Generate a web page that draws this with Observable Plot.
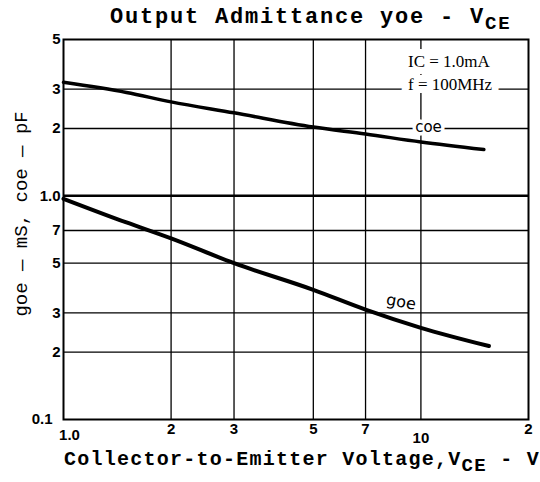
<!DOCTYPE html>
<html><head><meta charset="utf-8">
<script src="https://cdn.jsdelivr.net/npm/d3@7"></script>
<script src="https://cdn.jsdelivr.net/npm/@observablehq/plot@0.6"></script>
<style>
body{margin:0;background:#fff;}
#wrap{position:relative;width:540px;height:482px;overflow:hidden;}
#wrap svg{position:absolute;left:0;top:0;}
.lab{position:absolute;white-space:nowrap;font-family:"Liberation Mono",monospace;font-weight:bold;color:#000;}
#title{left:110px;top:7px;font-size:22px;line-height:22px;letter-spacing:1.8px;}
#xlabel{left:64px;top:450px;font-size:20px;line-height:20px;letter-spacing:1.25px;}
.sb{position:relative;top:6px;font-size:19px;}
</style></head><body>
<div id="wrap">
<div id="chart"></div>
<div id="title" class="lab">Output Admittance yoe - V<span class="sb">CE</span></div>
<div id="xlabel" class="lab">Collector-to-Emitter Voltage,V<span class="sb">CE</span> - V</div>
</div>
<script>
// Collector-to-emitter voltage (V)
const vce = [1.0, 1.5, 2, 3, 5, 7, 10, 15];
// Output capacitance coe (pF)
const coe = [3.22, 2.9, 2.63, 2.35, 2.03, 1.89, 1.74, 1.61];
// goe voltage points (V)
const vceG = [1.0, 1.5, 2, 3, 5, 7, 10, 15.5];
// Output conductance goe (mS)
const goe = [0.97, 0.76, 0.645, 0.50, 0.38, 0.31, 0.257, 0.213];

const xTicks = [1, 2, 3, 5, 7, 10, 20];
const xTickLabels = ["1.0", "2", "3", "5", "7", "10", "2"];
const yTicks = [0.1, 0.2, 0.3, 0.5, 0.7, 1, 2, 3, 5];
const yTickLabels = ["0.1", "2", "3", "5", "7", "1.0", "2", "3", "5"];

const coeData = vce.map((v, i) => ({v, val: coe[i]}));
const goeData = vceG.map((v, i) => ({v, val: goe[i]}));
const xT = xTicks.map((v, i) => ({v, t: xTickLabels[i]}));
const yT = yTicks.map((v, i) => ({v, t: yTickLabels[i]}));

const tickFont = {fontFamily: "Liberation Sans", fontWeight: "bold", fontSize: 15, fill: "#000"};

const chart = Plot.plot({
  width: 540, height: 482,
  marginLeft: 63, marginRight: 12, marginTop: 39, marginBottom: 63,
  x: {type: "log", domain: [1, 20], axis: null},
  y: {type: "log", domain: [0.1, 5], axis: null},
  style: {background: "white"},
  marks: [
    Plot.ruleX(xTicks.filter(d => d > 1 && d < 20), {stroke: "#000", strokeWidth: 1.3}),
    Plot.ruleY(yTicks.filter(d => d > 0.1 && d < 5 && d !== 1), {stroke: "#000", strokeWidth: 1.3}),
    Plot.ruleY([1], {stroke: "#000", strokeWidth: 2.5}),
    // labels (with white halo to break grid lines)
    Plot.text(["coe"], {x: 10.5, y: 2, text: d => d, fontFamily: "DejaVu Sans", fontSize: 15, fill: "#000", stroke: "white", strokeWidth: 7, lineAnchor: "middle", dy: -1}),
    Plot.text(["goe"], {x: 8.8, y: 0.335, text: d => d, fontFamily: "DejaVu Sans", fontSize: 16, fill: "#000", stroke: "white", strokeWidth: 5, rotate: 10, lineAnchor: "middle"}),
    Plot.text(["IC = 1.0mA"], {x: 9.2, y: 3.97, text: d => d, textAnchor: "start", fontFamily: "Liberation Serif", fontSize: 17, fill: "#000", stroke: "white", strokeWidth: 14, lineAnchor: "middle", ariaLabel: "icnote"}),
    Plot.text(["f = 100MHz"], {x: 9.2, y: 3.13, text: d => d, textAnchor: "start", fontFamily: "Liberation Serif", fontSize: 17, fill: "#000", stroke: "white", strokeWidth: 14, lineAnchor: "middle"}),
    Plot.frame({stroke: "#000", strokeWidth: 2}),
    Plot.line(coeData, {x: "v", y: "val", curve: "monotone-x", stroke: "#000", strokeWidth: 3.5}),
    Plot.line(goeData, {x: "v", y: "val", curve: "monotone-x", stroke: "#000", strokeWidth: 4}),
    // x tick labels
    Plot.text(xT.filter(d => d.v !== 10 && d.v !== 1), {x: "v", text: "t", frameAnchor: "bottom", dy: 10, lineAnchor: "middle", ...tickFont}),
    Plot.text(xT.filter(d => d.v === 1), {x: "v", text: "t", frameAnchor: "bottom", dy: 16, dx: 6, lineAnchor: "middle", ...tickFont}),
    Plot.text(xT.filter(d => d.v === 10), {x: "v", text: "t", frameAnchor: "bottom", dy: 19, lineAnchor: "middle", ...tickFont}),
    // y tick labels
    Plot.text(yT.filter(d => d.v !== 0.1), {y: "v", text: "t", frameAnchor: "left", dx: -3, textAnchor: "end", lineAnchor: "middle", ...tickFont}),
    Plot.text(yT.filter(d => d.v === 0.1), {y: "v", text: "t", frameAnchor: "left", dx: -11, textAnchor: "end", lineAnchor: "middle", ...tickFont}),
    // y axis label
    Plot.text(["goe — mS, coe — pF"], {y: 0.83, text: d => d, frameAnchor: "left", dx: -43, rotate: -90, textAnchor: "middle", lineAnchor: "middle", fontFamily: "Liberation Mono", fontSize: 19, fill: "#000", ariaLabel: "ylabel"})
  ]
});
document.getElementById("chart").appendChild(chart);

// add subscripts
const svg = d3.select(chart);
const yl = svg.select('g[aria-label="ylabel"] text');
yl.text(null);
const parts = [["g", 0], ["oe", 1], [" — mS, c", 0], ["oe", 1], [" — pF", 0]];
let prev = 0;
parts.forEach(([s, sub]) => {
  const off = sub ? 4 : 0;
  yl.append("tspan").attr("dy", off - prev).attr("font-size", sub ? 15 : null).text(s);
  prev = off;
});
const ic = svg.select('g[aria-label="icnote"] text');
ic.text(null);
ic.append("tspan").text("I");
ic.append("tspan").attr("dy", 3).attr("font-size", 12).text("C");
ic.append("tspan").attr("dy", -3).text(" = 1.0mA");
</script>
</body></html>
